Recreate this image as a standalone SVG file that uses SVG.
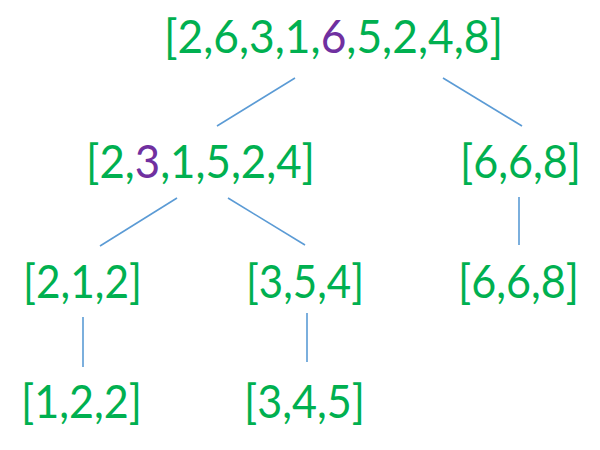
<svg xmlns="http://www.w3.org/2000/svg" width="600" height="450" viewBox="0 0 600 450">
<style>
.t{font-family:Lato,"Liberation Sans",sans-serif;font-size:46px;fill:#00B050;text-anchor:middle}
.p{fill:#7030A0}
.c line{stroke:#5B9BD5;stroke-width:1.6}
</style>
<rect width="600" height="450" fill="#fff"/>
<g class="c" id="connectors">
<line x1="295" y1="78" x2="217" y2="126"/>
<line x1="443" y1="78" x2="522" y2="126"/>
<line x1="177" y1="198" x2="100" y2="246"/>
<line x1="228" y1="198" x2="305" y2="245"/>
<line x1="519" y1="197" x2="519" y2="245"/>
<line x1="83" y1="317" x2="83" y2="367"/>
<line x1="307" y1="313" x2="307" y2="362"/>
</g>
<g id="n0"><text class="t" x="333.5" y="53" textLength="339" lengthAdjust="spacingAndGlyphs">[2,6,3,1,<tspan class="p">6</tspan>,5,2,4,8]</text></g>
<g id="n1"><text class="t" x="200.5" y="178" textLength="229" lengthAdjust="spacingAndGlyphs">[2,<tspan class="p">3</tspan>,1,5,2,4]</text></g>
<g id="n2"><text class="t" x="520.5" y="178" textLength="121" lengthAdjust="spacingAndGlyphs">[6,6,8]</text></g>
<g id="n3"><text class="t" x="82.5" y="298" textLength="119" lengthAdjust="spacingAndGlyphs">[2,1,2]</text></g>
<g id="n4"><text class="t" x="305" y="298" textLength="118" lengthAdjust="spacingAndGlyphs">[3,5,4]</text></g>
<g id="n5"><text class="t" x="518.5" y="298" textLength="121" lengthAdjust="spacingAndGlyphs">[6,6,8]</text></g>
<g id="n6"><text class="t" x="81.5" y="418" textLength="121" lengthAdjust="spacingAndGlyphs">[1,2,2]</text></g>
<g id="n7"><text class="t" x="304.5" y="418" textLength="121" lengthAdjust="spacingAndGlyphs">[3,4,5]</text></g>
</svg>
